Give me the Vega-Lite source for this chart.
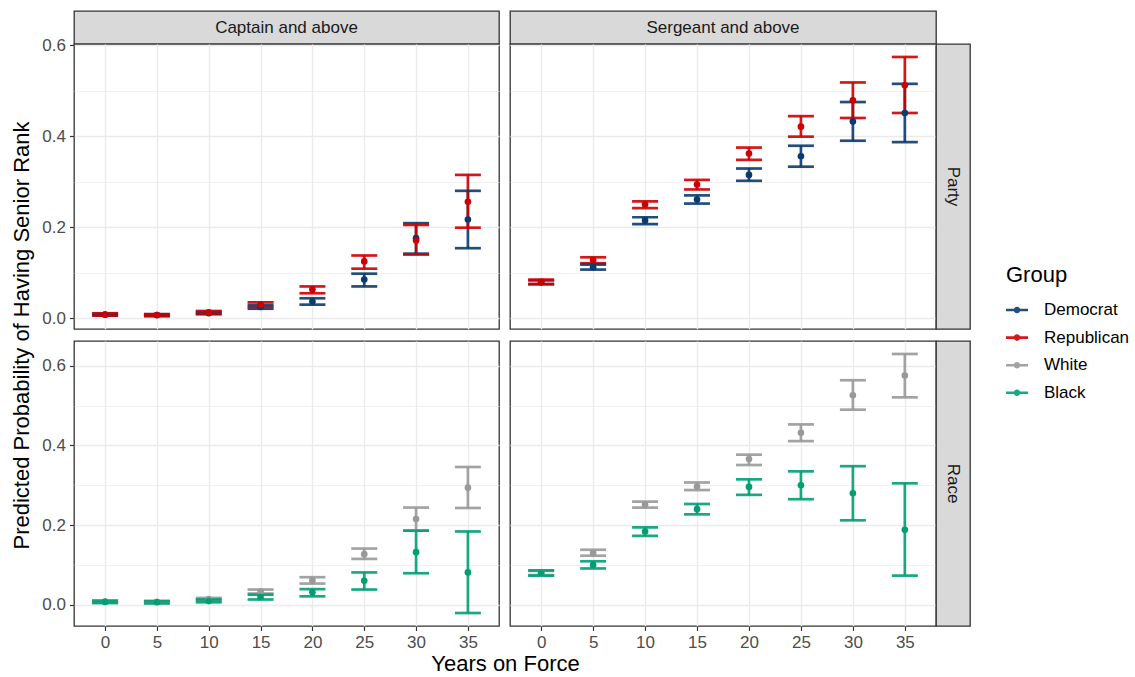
{
  "$schema": "https://vega.github.io/schema/vega-lite/v6.json",
  "background": "white",
  "padding": {"left": 10, "top": 10, "right": 5, "bottom": 5},
  "autosize": {"type": "pad"},
  "config": {
    "font": "Liberation Sans",
    "view": {"stroke": null},
    "axis": {
      "domain": false,
      "gridColor": "#EBEBEB",
      "tickColor": "#333333",
      "tickSize": 4.5,
      "tickWidth": 1.2,
      "labelColor": "#4D4D4D",
      "labelFontSize": 17,
      "labelFont": "Liberation Sans",
      "titleFont": "Liberation Sans",
      "titleFontSize": 22,
      "titleFontWeight": "normal",
      "titleColor": "#000000",
      "labelPadding": 4,
      "labelFlush": false,
      "labelOverlap": false
    }
  },
  "datasets": {
    "cp": [
      {"group": "Democrat", "year": 0, "est": 0.008, "lo": 0.006, "hi": 0.010},
      {"group": "Democrat", "year": 5, "est": 0.007, "lo": 0.005, "hi": 0.009},
      {"group": "Democrat", "year": 10, "est": 0.011, "lo": 0.009, "hi": 0.014},
      {"group": "Democrat", "year": 15, "est": 0.025, "lo": 0.021, "hi": 0.029},
      {"group": "Democrat", "year": 20, "est": 0.037, "lo": 0.030, "hi": 0.044},
      {"group": "Democrat", "year": 25, "est": 0.085, "lo": 0.070, "hi": 0.098},
      {"group": "Democrat", "year": 30, "est": 0.176, "lo": 0.142, "hi": 0.209},
      {"group": "Democrat", "year": 35, "est": 0.217, "lo": 0.154, "hi": 0.280},
      {"group": "Republican", "year": 0, "est": 0.008, "lo": 0.006, "hi": 0.011},
      {"group": "Republican", "year": 5, "est": 0.007, "lo": 0.005, "hi": 0.009},
      {"group": "Republican", "year": 10, "est": 0.013, "lo": 0.010, "hi": 0.016},
      {"group": "Republican", "year": 15, "est": 0.030, "lo": 0.025, "hi": 0.035},
      {"group": "Republican", "year": 20, "est": 0.063, "lo": 0.055, "hi": 0.070},
      {"group": "Republican", "year": 25, "est": 0.125, "lo": 0.109, "hi": 0.138},
      {"group": "Republican", "year": 30, "est": 0.171, "lo": 0.140, "hi": 0.205},
      {"group": "Republican", "year": 35, "est": 0.256, "lo": 0.199, "hi": 0.315}
    ],
    "sp": [
      {"group": "Democrat", "year": 0, "est": 0.079, "lo": 0.075, "hi": 0.083},
      {"group": "Democrat", "year": 5, "est": 0.112, "lo": 0.107, "hi": 0.118},
      {"group": "Democrat", "year": 10, "est": 0.215, "lo": 0.207, "hi": 0.222},
      {"group": "Democrat", "year": 15, "est": 0.261, "lo": 0.252, "hi": 0.270},
      {"group": "Democrat", "year": 20, "est": 0.315, "lo": 0.302, "hi": 0.329},
      {"group": "Democrat", "year": 25, "est": 0.356, "lo": 0.333, "hi": 0.379},
      {"group": "Democrat", "year": 30, "est": 0.432, "lo": 0.390, "hi": 0.475},
      {"group": "Democrat", "year": 35, "est": 0.451, "lo": 0.387, "hi": 0.515},
      {"group": "Republican", "year": 0, "est": 0.080, "lo": 0.075, "hi": 0.085},
      {"group": "Republican", "year": 5, "est": 0.128, "lo": 0.121, "hi": 0.134},
      {"group": "Republican", "year": 10, "est": 0.250, "lo": 0.242, "hi": 0.257},
      {"group": "Republican", "year": 15, "est": 0.294, "lo": 0.283, "hi": 0.304},
      {"group": "Republican", "year": 20, "est": 0.362, "lo": 0.348, "hi": 0.375},
      {"group": "Republican", "year": 25, "est": 0.421, "lo": 0.399, "hi": 0.444},
      {"group": "Republican", "year": 30, "est": 0.479, "lo": 0.440, "hi": 0.518},
      {"group": "Republican", "year": 35, "est": 0.512, "lo": 0.451, "hi": 0.574}
    ],
    "cr": [
      {"group": "White", "year": 0, "est": 0.008, "lo": 0.006, "hi": 0.010},
      {"group": "White", "year": 5, "est": 0.007, "lo": 0.005, "hi": 0.009},
      {"group": "White", "year": 10, "est": 0.014, "lo": 0.011, "hi": 0.017},
      {"group": "White", "year": 15, "est": 0.033, "lo": 0.028, "hi": 0.038},
      {"group": "White", "year": 20, "est": 0.061, "lo": 0.053, "hi": 0.069},
      {"group": "White", "year": 25, "est": 0.127, "lo": 0.115, "hi": 0.141},
      {"group": "White", "year": 30, "est": 0.215, "lo": 0.186, "hi": 0.244},
      {"group": "White", "year": 35, "est": 0.294, "lo": 0.243, "hi": 0.346},
      {"group": "Black", "year": 0, "est": 0.007, "lo": 0.004, "hi": 0.010},
      {"group": "Black", "year": 5, "est": 0.006, "lo": 0.003, "hi": 0.009},
      {"group": "Black", "year": 10, "est": 0.009, "lo": 0.006, "hi": 0.013},
      {"group": "Black", "year": 15, "est": 0.019, "lo": 0.013, "hi": 0.025},
      {"group": "Black", "year": 20, "est": 0.031, "lo": 0.021, "hi": 0.039},
      {"group": "Black", "year": 25, "est": 0.060, "lo": 0.038, "hi": 0.081},
      {"group": "Black", "year": 30, "est": 0.132, "lo": 0.079, "hi": 0.186},
      {"group": "Black", "year": 35, "est": 0.081, "lo": -0.021, "hi": 0.184}
    ],
    "sr": [
      {"group": "White", "year": 0, "est": 0.079, "lo": 0.074, "hi": 0.085},
      {"group": "White", "year": 5, "est": 0.130, "lo": 0.123, "hi": 0.138},
      {"group": "White", "year": 10, "est": 0.251, "lo": 0.244, "hi": 0.259},
      {"group": "White", "year": 15, "est": 0.297, "lo": 0.288, "hi": 0.307},
      {"group": "White", "year": 20, "est": 0.366, "lo": 0.351, "hi": 0.377},
      {"group": "White", "year": 25, "est": 0.432, "lo": 0.411, "hi": 0.453},
      {"group": "White", "year": 30, "est": 0.526, "lo": 0.490, "hi": 0.564},
      {"group": "White", "year": 35, "est": 0.576, "lo": 0.521, "hi": 0.630},
      {"group": "Black", "year": 0, "est": 0.079, "lo": 0.073, "hi": 0.086},
      {"group": "Black", "year": 5, "est": 0.100, "lo": 0.091, "hi": 0.109},
      {"group": "Black", "year": 10, "est": 0.184, "lo": 0.173, "hi": 0.194},
      {"group": "Black", "year": 15, "est": 0.240, "lo": 0.227, "hi": 0.253},
      {"group": "Black", "year": 20, "est": 0.296, "lo": 0.276, "hi": 0.315},
      {"group": "Black", "year": 25, "est": 0.300, "lo": 0.265, "hi": 0.335},
      {"group": "Black", "year": 30, "est": 0.280, "lo": 0.212, "hi": 0.348},
      {"group": "Black", "year": 35, "est": 0.188, "lo": 0.073, "hi": 0.305}
    ]
  },
  "columns": 4,
  "spacing": 0,
  "bounds": "flush",
  "align": "each",
  "concat": [
    {
      "width": 425, "height": 33,
      "view": {"fill": "#D9D9D9", "stroke": "#333333", "strokeWidth": 1.3},
      "data": {"values": [{"label": "Captain and above"}]},
      "mark": {"type": "text", "fontSize": 17, "color": "#1A1A1A"},
      "encoding": {"text": {"field": "label"}}
    },
    {"width": 11, "height": 12, "data": {"values": []}, "mark": "point"},
    {
      "width": 426, "height": 33,
      "view": {"fill": "#D9D9D9", "stroke": "#333333", "strokeWidth": 1.3},
      "data": {"values": [{"label": "Sergeant and above"}]},
      "mark": {"type": "text", "fontSize": 17, "color": "#1A1A1A"},
      "encoding": {"text": {"field": "label"}}
    },
    {"width": 11, "height": 12, "data": {"values": []}, "mark": "point"},
    {
      "width": 425, "height": 285,
      "view": {"stroke": "#333333", "strokeWidth": 1.3},
      "data": {"name": "cp"},
      "encoding": {
        "x": {"field": "year", "type": "quantitative", "scale": {"domain": [-3, 38], "nice": false, "zero": false},
              "axis": {"values": [0, 5, 10, 15, 20, 25, 30, 35], "labels": false, "ticks": false, "title": null, "gridWidth": 1.4}},
        "color": {"field": "group", "type": "nominal", "scale": {"domain": ["Democrat", "Republican", "White", "Black"], "range": ["#0B3A6C", "#CC0000", "#999999", "#009E73"]}}
      },
      "layer": [
        {
          "mark": {"type": "rule", "strokeWidth": 2.7, "opacity": 0.9},
          "encoding": {
            "y": {"field": "lo", "type": "quantitative", "scale": {"domain": [-0.0235, 0.6025], "nice": false, "zero": false},
                  "axis": {"values": [0, 0.1, 0.2, 0.3, 0.4, 0.5, 0.6], "format": ".1f", "title": null,
                           "labelExpr": "abs(round(datum.value*10)) % 2 == 1 ? '' : datum.label",
                           "tickOpacity": {"condition": {"test": "abs(round(datum.value*10)) % 2 == 1", "value": 0}, "value": 1},
                           "gridWidth": {"condition": {"test": "abs(round(datum.value*10)) % 2 == 1", "value": 0.7}, "value": 1.4}}},
            "y2": {"field": "hi"}
          }
        },
        {
          "mark": {"type": "tick", "orient": "horizontal", "size": 26, "thickness": 2.7, "opacity": 0.9},
          "encoding": {"y": {"field": "lo", "type": "quantitative"}}
        },
        {
          "mark": {"type": "tick", "orient": "horizontal", "size": 26, "thickness": 2.7, "opacity": 0.9},
          "encoding": {"y": {"field": "hi", "type": "quantitative"}}
        },
        {
          "mark": {"type": "point", "filled": true, "size": 44, "opacity": 1},
          "encoding": {
            "y": {"field": "est", "type": "quantitative"},
            "color": {"field": "group", "type": "nominal", "scale": {"domain": ["Democrat", "Republican", "White", "Black"], "range": ["#0B3A6C", "#CC0000", "#999999", "#009E73"]},
                      "legend": {"title": "Group", "orient": "none", "legendX": 932, "legendY": 254,
                                 "symbolType": "M-1,-0.12H1V0.12H-1Z M-0.3,0A0.3,0.3 0 1,1 0.3,0A0.3,0.3 0 1,1 -0.3,0Z",
                                 "symbolSize": 484, "symbolStrokeWidth": 0, "symbolOpacity": 1,
                                 "titleFontSize": 22, "titleFontWeight": "normal", "titleColor": "#000000", "titleFont": "Liberation Sans",
                                 "labelFontSize": 17, "labelColor": "#000000", "labelFont": "Liberation Sans",
                                 "rowPadding": 8.6, "titlePadding": 12, "labelOffset": 16}}
          }
        }
      ]
    },
    {"width": 11, "height": 12, "data": {"values": []}, "mark": "point"},
    {
      "width": 426, "height": 285,
      "view": {"stroke": "#333333", "strokeWidth": 1.3},
      "data": {"name": "sp"},
      "encoding": {
        "x": {"field": "year", "type": "quantitative", "scale": {"domain": [-3, 38], "nice": false, "zero": false},
              "axis": {"values": [0, 5, 10, 15, 20, 25, 30, 35], "labels": false, "ticks": false, "title": null, "gridWidth": 1.4}},
        "color": {"field": "group", "type": "nominal", "scale": {"domain": ["Democrat", "Republican", "White", "Black"], "range": ["#0B3A6C", "#CC0000", "#999999", "#009E73"]}}
      },
      "layer": [
        {
          "mark": {"type": "rule", "strokeWidth": 2.7, "opacity": 0.9},
          "encoding": {
            "y": {"field": "lo", "type": "quantitative", "scale": {"domain": [-0.0235, 0.6025], "nice": false, "zero": false},
                  "axis": {"values": [0, 0.1, 0.2, 0.3, 0.4, 0.5, 0.6], "labels": false, "ticks": false, "title": null,
                           "gridWidth": {"condition": {"test": "abs(round(datum.value*10)) % 2 == 1", "value": 0.7}, "value": 1.4}}},
            "y2": {"field": "hi"}
          }
        },
        {
          "mark": {"type": "tick", "orient": "horizontal", "size": 26, "thickness": 2.7, "opacity": 0.9},
          "encoding": {"y": {"field": "lo", "type": "quantitative"}}
        },
        {
          "mark": {"type": "tick", "orient": "horizontal", "size": 26, "thickness": 2.7, "opacity": 0.9},
          "encoding": {"y": {"field": "hi", "type": "quantitative"}}
        },
        {
          "mark": {"type": "point", "filled": true, "size": 44, "opacity": 1},
          "encoding": {"y": {"field": "est", "type": "quantitative"}}
        }
      ]
    },
    {
      "width": 34, "height": 285,
      "view": {"fill": "#D9D9D9", "stroke": "#333333", "strokeWidth": 1.3},
      "data": {"values": [{"label": "Party"}]},
      "mark": {"type": "text", "fontSize": 17, "color": "#1A1A1A", "angle": 90},
      "encoding": {"text": {"field": "label"}}
    },
    {"width": 11, "height": 12, "data": {"values": []}, "mark": "point"},
    {"width": 11, "height": 12, "data": {"values": []}, "mark": "point"},
    {"width": 11, "height": 12, "data": {"values": []}, "mark": "point"},
    {"width": 11, "height": 12, "data": {"values": []}, "mark": "point"},
    {
      "width": 425, "height": 285,
      "view": {"stroke": "#333333", "strokeWidth": 1.3},
      "data": {"name": "cr"},
      "encoding": {
        "x": {"field": "year", "type": "quantitative", "scale": {"domain": [-3, 38], "nice": false, "zero": false},
              "axis": {"values": [0, 5, 10, 15, 20, 25, 30, 35], "format": "d", "title": "Years on Force", "titleX": 431, "titlePadding": 3, "gridWidth": 1.4}},
        "color": {"field": "group", "type": "nominal", "scale": {"domain": ["Democrat", "Republican", "White", "Black"], "range": ["#0B3A6C", "#CC0000", "#999999", "#009E73"]}}
      },
      "layer": [
        {
          "mark": {"type": "rule", "strokeWidth": 2.7, "opacity": 0.9},
          "encoding": {
            "y": {"field": "lo", "type": "quantitative", "scale": {"domain": [-0.0536, 0.6626], "nice": false, "zero": false},
                  "axis": {"values": [0, 0.1, 0.2, 0.3, 0.4, 0.5, 0.6], "format": ".1f", "title": "Predicted Probability of Having Senior Rank", "titleY": -6, "titlePadding": 8,
                           "labelExpr": "abs(round(datum.value*10)) % 2 == 1 ? '' : datum.label",
                           "tickOpacity": {"condition": {"test": "abs(round(datum.value*10)) % 2 == 1", "value": 0}, "value": 1},
                           "gridWidth": {"condition": {"test": "abs(round(datum.value*10)) % 2 == 1", "value": 0.7}, "value": 1.4}}},
            "y2": {"field": "hi"}
          }
        },
        {
          "mark": {"type": "tick", "orient": "horizontal", "size": 26, "thickness": 2.7, "opacity": 0.9},
          "encoding": {"y": {"field": "lo", "type": "quantitative"}}
        },
        {
          "mark": {"type": "tick", "orient": "horizontal", "size": 26, "thickness": 2.7, "opacity": 0.9},
          "encoding": {"y": {"field": "hi", "type": "quantitative"}}
        },
        {
          "mark": {"type": "point", "filled": true, "size": 44, "opacity": 1},
          "encoding": {"y": {"field": "est", "type": "quantitative"}}
        }
      ]
    },
    {"width": 11, "height": 12, "data": {"values": []}, "mark": "point"},
    {
      "width": 426, "height": 285,
      "view": {"stroke": "#333333", "strokeWidth": 1.3},
      "data": {"name": "sr"},
      "encoding": {
        "x": {"field": "year", "type": "quantitative", "scale": {"domain": [-3, 38], "nice": false, "zero": false},
              "axis": {"values": [0, 5, 10, 15, 20, 25, 30, 35], "format": "d", "title": null, "gridWidth": 1.4}},
        "color": {"field": "group", "type": "nominal", "scale": {"domain": ["Democrat", "Republican", "White", "Black"], "range": ["#0B3A6C", "#CC0000", "#999999", "#009E73"]}}
      },
      "layer": [
        {
          "mark": {"type": "rule", "strokeWidth": 2.7, "opacity": 0.9},
          "encoding": {
            "y": {"field": "lo", "type": "quantitative", "scale": {"domain": [-0.0536, 0.6626], "nice": false, "zero": false},
                  "axis": {"values": [0, 0.1, 0.2, 0.3, 0.4, 0.5, 0.6], "labels": false, "ticks": false, "title": null,
                           "gridWidth": {"condition": {"test": "abs(round(datum.value*10)) % 2 == 1", "value": 0.7}, "value": 1.4}}},
            "y2": {"field": "hi"}
          }
        },
        {
          "mark": {"type": "tick", "orient": "horizontal", "size": 26, "thickness": 2.7, "opacity": 0.9},
          "encoding": {"y": {"field": "lo", "type": "quantitative"}}
        },
        {
          "mark": {"type": "tick", "orient": "horizontal", "size": 26, "thickness": 2.7, "opacity": 0.9},
          "encoding": {"y": {"field": "hi", "type": "quantitative"}}
        },
        {
          "mark": {"type": "point", "filled": true, "size": 44, "opacity": 1},
          "encoding": {"y": {"field": "est", "type": "quantitative"}}
        }
      ]
    },
    {
      "width": 34, "height": 285,
      "view": {"fill": "#D9D9D9", "stroke": "#333333", "strokeWidth": 1.3},
      "data": {"values": [{"label": "Race"}]},
      "mark": {"type": "text", "fontSize": 17, "color": "#1A1A1A", "angle": 90},
      "encoding": {"text": {"field": "label"}}
    }
  ]
}
